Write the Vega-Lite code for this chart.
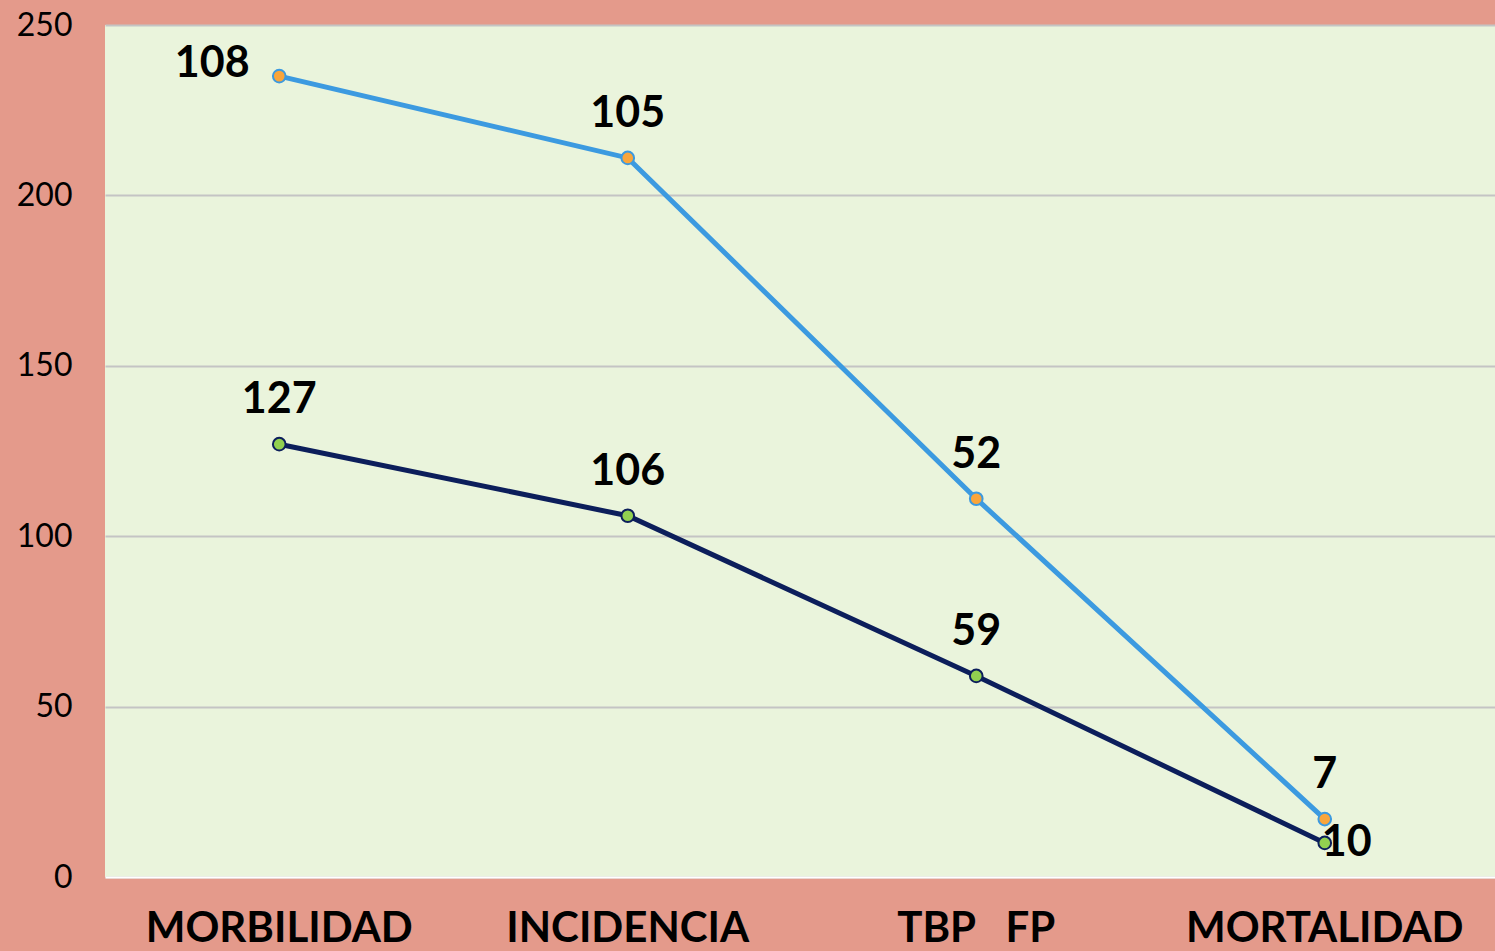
{
  "$schema": "https://vega.github.io/schema/vega-lite/v6.json",
  "width": 1394,
  "height": 852,
  "autosize": {"type": "none"},
  "padding": {"left": 105, "top": 25, "right": 0, "bottom": 74},
  "background": "#E49A8B",
  "config": {
    "view": {"fill": "#EAF4DC", "stroke": null},
    "font": "Lato"
  },
  "data": {
    "values": [
      {"cat": "MORBILIDAD", "serie": "s1", "value": 127},
      {"cat": "INCIDENCIA", "serie": "s1", "value": 106},
      {"cat": "TBP\u00a0\u00a0\u00a0FP", "serie": "s1", "value": 59},
      {"cat": "MORTALIDAD", "serie": "s1", "value": 10},
      {"cat": "MORBILIDAD", "serie": "s2", "value": 108},
      {"cat": "INCIDENCIA", "serie": "s2", "value": 105},
      {"cat": "TBP\u00a0\u00a0\u00a0FP", "serie": "s2", "value": 52},
      {"cat": "MORTALIDAD", "serie": "s2", "value": 7}
    ]
  },
  "transform": [
    {"stack": "value", "groupby": ["cat"], "sort": [{"field": "serie", "order": "ascending"}], "as": ["v0", "v1"]}
  ],
  "encoding": {
    "x": {
      "field": "cat", "type": "nominal", "sort": null, "title": null,
      "scale": {"type": "band", "paddingInner": 0, "paddingOuter": 0},
      "axis": {
        "labelAngle": 0, "labelFont": "Lato", "labelFontWeight": "bold", "labelFontSize": 42,
        "labelColor": "#000000", "labelBaseline": "alphabetic", "labelPadding": 64, "labelLimit": 0,
        "labelOverlap": false,
        "ticks": false, "tickSize": 0, "domain": true, "domainColor": "#FFFFFF", "domainWidth": 2,
        "grid": false
      }
    },
    "y": {
      "field": "v1", "type": "quantitative", "title": null,
      "scale": {"domain": [0, 250], "nice": false, "zero": true},
      "axis": {
        "values": [0, 50, 100, 150, 200, 250], "labelFont": "Lato", "labelFontSize": 32,
        "labelColor": "#000000", "labelPadding": 33, "ticks": false, "tickSize": 0, "domain": false,
        "grid": true, "gridColor": "#C4C4C4", "gridWidth": 2
      }
    }
  },
  "layer": [
    {
      "mark": {"type": "line", "strokeWidth": 5},
      "encoding": {
        "color": {"field": "serie", "type": "nominal", "legend": null,
          "scale": {"domain": ["s1", "s2"], "range": ["#0C1E5B", "#3C9AE0"]}}
      }
    },
    {
      "mark": {"type": "point", "filled": true, "shape": "circle", "size": 160, "strokeWidth": 2, "opacity": 1},
      "encoding": {
        "fill": {"field": "serie", "type": "nominal", "legend": null,
          "scale": {"domain": ["s1", "s2"], "range": ["#92D050", "#F9A53B"]}},
        "stroke": {"field": "serie", "type": "nominal", "legend": null,
          "scale": {"domain": ["s1", "s2"], "range": ["#0C1E5B", "#3C9AE0"]}}
      }
    },
    {
      "transform": [{"filter": "!(datum.cat == 'MORBILIDAD' && datum.serie == 's2') && !(datum.cat == 'MORTALIDAD' && datum.serie == 's1')"}],
      "mark": {"type": "text", "font": "Lato", "fontWeight": "bold", "fontSize": 43, "color": "#000000", "baseline": "middle", "align": "center", "dy": -44},
      "encoding": {"text": {"field": "value", "type": "quantitative"}}
    },
    {
      "transform": [{"filter": "datum.cat == 'MORBILIDAD' && datum.serie == 's2'"}],
      "mark": {"type": "text", "font": "Lato", "fontWeight": "bold", "fontSize": 43, "color": "#000000", "baseline": "middle", "align": "center", "dx": -67, "dy": -12},
      "encoding": {"text": {"field": "value", "type": "quantitative"}}
    },
    {
      "transform": [{"filter": "datum.cat == 'MORTALIDAD' && datum.serie == 's1'"}],
      "mark": {"type": "text", "font": "Lato", "fontWeight": "bold", "fontSize": 43, "color": "#000000", "baseline": "middle", "align": "center", "dx": 22, "dy": 0},
      "encoding": {"text": {"field": "value", "type": "quantitative"}}
    }
  ]
}
